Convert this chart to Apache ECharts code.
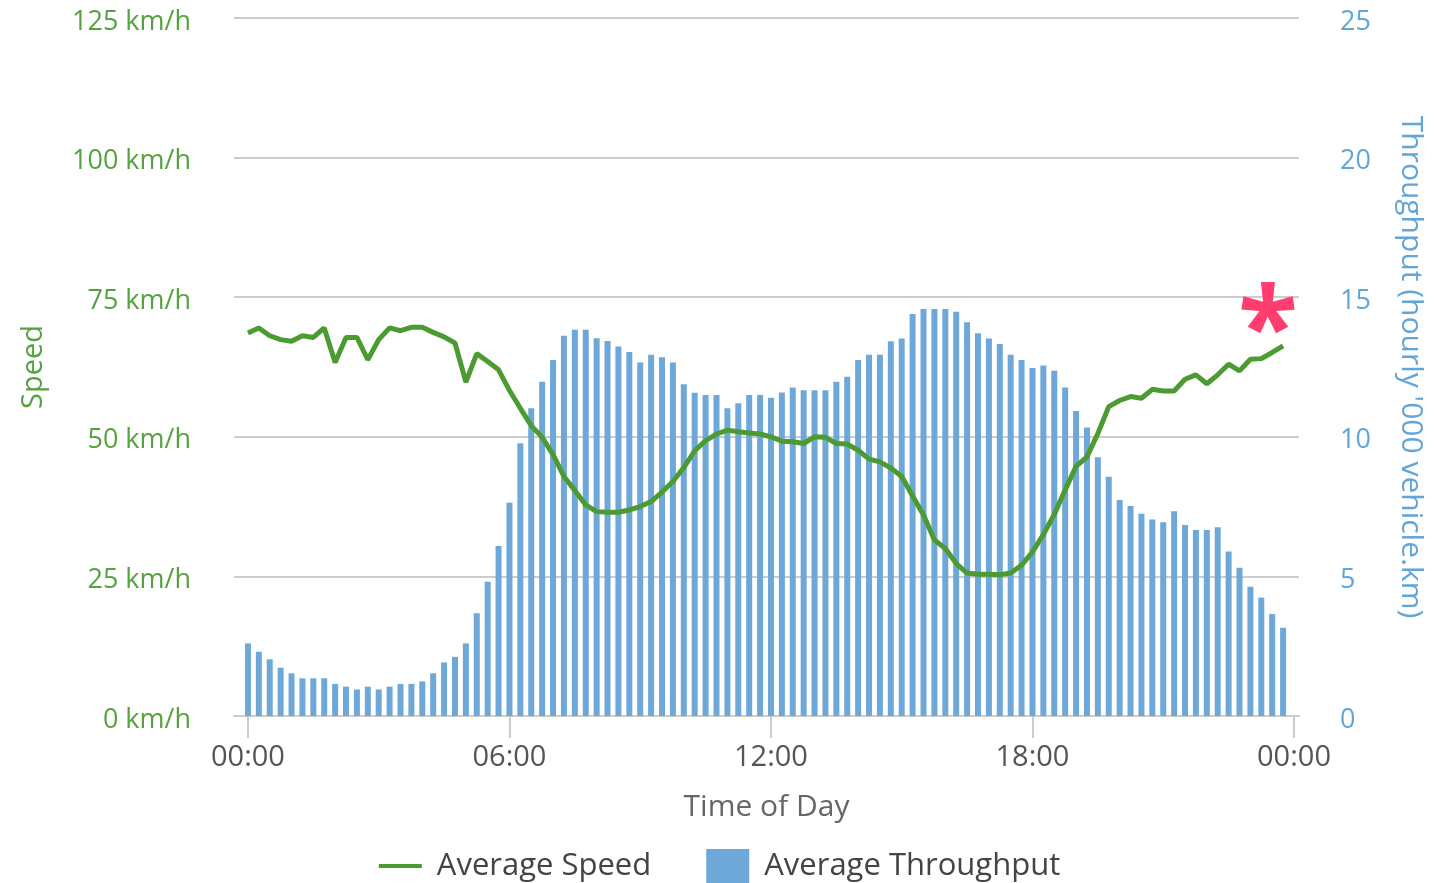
<!DOCTYPE html>
<html><head><meta charset="utf-8">
<script src="https://cdn.jsdelivr.net/npm/echarts@6/dist/echarts.min.js"></script>
<style>html,body{margin:0;padding:0;background:#fff;}#c{width:1439px;height:883px;}</style>
</head><body><div id="c"></div>
<script>
// 15-minute slots, expressed in hours from midnight
const slotHours = Array.from({length: 96}, (_, i) => i * 0.25);

const speedKmh = [
  68.6, 69.5, 68.1, 67.4, 67.1, 68.1, 67.8, 69.5, 63.3, 67.8, 67.8, 63.8,
  67.4, 69.5, 69.0, 69.6, 69.6, 68.7, 67.9, 66.8, 59.8, 64.9, 63.5, 62.0,
  58.3, 55.1, 52.0, 49.9, 46.8, 42.9, 40.4, 37.8, 36.6, 36.5, 36.5, 36.9,
  37.5, 38.4, 40.1, 42.0, 44.5, 47.5, 49.3, 50.5, 51.2, 50.9, 50.7, 50.5,
  50.0, 49.2, 49.1, 48.8, 50.0, 49.9, 48.8, 48.7, 47.6, 46.0, 45.5, 44.4,
  42.9, 39.4, 36.0, 31.5, 30.0, 27.3, 25.6, 25.4, 25.4, 25.3, 25.6, 27.0,
  29.4, 32.5, 36.1, 40.5, 44.7, 46.4, 50.6, 55.4, 56.5, 57.2, 56.9, 58.5,
  58.2, 58.2, 60.3, 61.1, 59.5, 61.1, 63.0, 61.8, 63.9, 64.0, 65.1, 66.3
];

const throughputK = [
  2.60, 2.30, 2.03, 1.73, 1.53, 1.35, 1.35, 1.35, 1.15, 1.05, 0.95, 1.05,
  0.95, 1.05, 1.15, 1.15, 1.24, 1.53, 1.92, 2.12, 2.60, 3.68, 4.81, 6.09,
  7.64, 9.77, 11.02, 11.97, 12.75, 13.62, 13.83, 13.83, 13.53, 13.43, 13.23, 13.04,
  12.66, 12.94, 12.85, 12.66, 11.88, 11.58, 11.50, 11.50, 11.02, 11.20, 11.50, 11.50,
  11.40, 11.59, 11.77, 11.67, 11.67, 11.67, 11.97, 12.15, 12.75, 12.94, 12.94, 13.42,
  13.52, 14.40, 14.58, 14.58, 14.58, 14.48, 14.10, 13.71, 13.52, 13.32, 12.94, 12.75,
  12.46, 12.55, 12.37, 11.77, 10.92, 10.33, 9.27, 8.57, 7.74, 7.52, 7.24, 7.04,
  6.94, 7.33, 6.84, 6.66, 6.66, 6.76, 5.89, 5.31, 4.63, 4.24, 3.65, 3.16
];

const xTickHours = [0, 6, 12, 18, 24];
const xTickLabels = ['00:00', '06:00', '12:00', '18:00', '00:00'];

const FONT = 'Open Sans';
const GREEN = '#4b9a32';
const GREEN_TXT = '#56a23f';
const BLUE = '#6ea8d8';
const BLUE_TXT = '#62a5d8';

const chart = echarts.init(document.getElementById('c'), null, {renderer: 'canvas'});
chart.setOption({
  backgroundColor: '#ffffff',
  animation: false,
  grid: {left: 234, right: 140, top: 18, bottom: 167, containLabel: false},
  legend: {
    left: 'center', bottom: -5,
    itemWidth: 43, itemHeight: 34, itemGap: 55,
    textStyle: {fontFamily: FONT, fontSize: 31, color: '#444', padding: [0, 0, 0, 10]},
    data: [
      {name: 'Average Speed', icon: 'path://M0,0 L43,0 L43,4 L0,4 Z'},
      {name: 'Average Throughput', icon: 'rect'}
    ]
  },
  xAxis: {
    type: 'value',
    min: -0.32, max: 24.115,
    name: 'Time of Day', nameLocation: 'middle', nameGap: 76,
    nameTextStyle: {fontFamily: FONT, fontSize: 30, color: '#666'},
    axisLine: {show: true, lineStyle: {color: '#cccccc', width: 2}},
    axisTick: {show: true, customValues: xTickHours, length: 22, lineStyle: {color: '#cccccc', width: 2}},
    axisLabel: {
      customValues: xTickHours, margin: 27,
      fontFamily: FONT, fontSize: 29, color: '#555',
      formatter: v => xTickLabels[xTickHours.indexOf(v)]
    },
    splitLine: {show: false}
  },
  yAxis: [
    {
      type: 'value', min: 0, max: 125, interval: 25, position: 'left',
      name: 'Speed', nameLocation: 'middle', nameGap: 186,
      nameTextStyle: {fontFamily: FONT, fontSize: 29, color: GREEN_TXT},
      axisLine: {show: false}, axisTick: {show: false},
      axisLabel: {
        margin: 43, color: GREEN_TXT,
        formatter: '{a|{value} km/h}',
        rich: {a: {fontFamily: FONT, fontSize: 27, color: GREEN_TXT, padding: [8, 0, 0, 0]}}
      },
      splitLine: {show: true, lineStyle: {color: '#cccccc', width: 2}}
    },
    {
      type: 'value', min: 0, max: 25, interval: 5, position: 'right',
      name: "Throughput (hourly '000 vehicle.km)", nameLocation: 'middle', nameGap: 97, nameRotate: -90,
      nameTextStyle: {fontFamily: FONT, fontSize: 30, color: BLUE_TXT},
      axisLine: {show: false}, axisTick: {show: false},
      axisLabel: {
        margin: 41, color: BLUE_TXT,
        formatter: '{a|{value}}',
        rich: {a: {fontFamily: FONT, fontSize: 27, color: BLUE_TXT, padding: [8, 0, 0, 0]}}
      },
      splitLine: {show: false}
    }
  ],
  series: [
    {
      name: 'Average Throughput', type: 'bar', yAxisIndex: 1,
      barWidth: 6,
      itemStyle: {color: BLUE},
      data: slotHours.map((h, i) => [h, throughputK[i]])
    },
    {
      name: 'Average Speed', type: 'line', yAxisIndex: 0,
      symbol: 'none', smooth: false,
      lineStyle: {color: GREEN, width: 5},
      itemStyle: {color: GREEN},
      data: slotHours.map((h, i) => [h, speedKmh[i]])
    }
  ],
  graphic: [
    {
      type: 'text', left: 1238, top: 279, z: 100,
      style: {text: '*', fontFamily: FONT, fontWeight: 'bold', fontSize: 110, fill: '#ff3d6e'}
    }
  ]
});
</script>
</body></html>
